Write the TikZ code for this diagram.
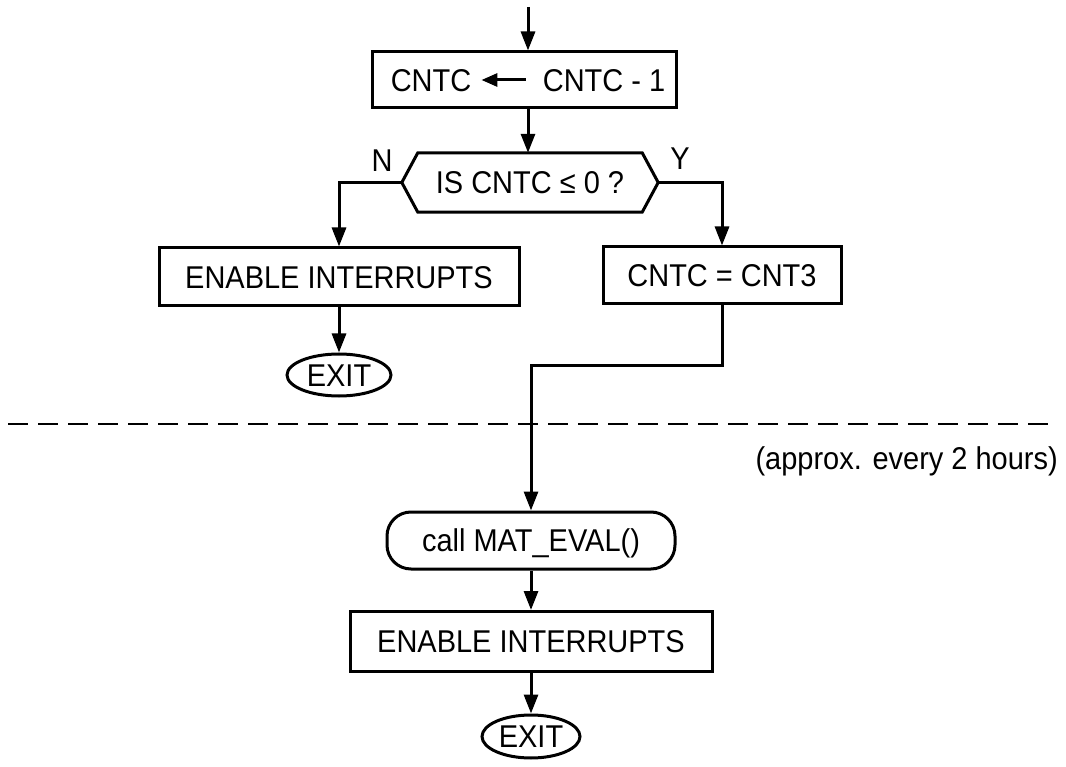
\documentclass[tikz,border=0pt]{standalone}
\usepackage{fontspec}
\setmainfont{Liberation Sans}[FakeStretch=0.92]
\usetikzlibrary{arrows.meta,shapes.geometric}

\tikzset{
  every node/.style={font=\fontsize{31.5}{36}\selectfont},
  line/.style={line width=3pt, line join=miter},
  flow/.style={line, -{Triangle[length=19pt,width=14pt]}},
  inarrow/.style={line, -{Triangle[length=16pt,width=13pt]}},
  procbox/.style={draw, line width=3pt, rectangle, inner sep=0pt,
                  text height=22.5pt, text depth=0pt},
  callbox/.style={procbox, rounded corners=24pt},
  exitnode/.style={draw, line width=3pt, ellipse, inner sep=0pt,
                   text height=22.5pt, text depth=0pt},
  plain/.style={inner sep=0pt, text height=22.5pt, text depth=0pt},
  sep/.style={line width=2.6pt, dash pattern=on 20pt off 10pt},
}

\begin{document}
\begin{tikzpicture}[x=1pt, y=1pt]
  \useasboundingbox (0,0) rectangle (1066,-767);

  % entry
  \coordinate (start) at (528,-7);

  % CNTC <- CNTC - 1
  \node[procbox, minimum width=304pt, minimum height=56pt] (b1) at (524,-80) {};
  \node[plain] (lhs) at (431,-80) {CNTC};
  \node[plain] (rhs) at (604,-80) {CNTC - 1};
  \draw[inarrow] ([xshift=-17pt]rhs.west) -- ([xshift=10pt]lhs.east);

  % decision
  \node[plain, minimum width=256pt, minimum height=59pt] (dec) at (530,-182.5) {IS CNTC ≤ 0 ?};
  \draw[line] (dec.west) -- ([xshift=16pt]dec.north west) -- ([xshift=-16pt]dec.north east)
              -- (dec.east) -- ([xshift=-16pt]dec.south east) -- ([xshift=16pt]dec.south west) -- cycle;
  \node[plain] (nlab) at (382,-160) {N};
  \node[plain] (ylab) at (680,-158) {Y};

  % branches
  \node[procbox, minimum width=360pt, minimum height=58pt] (en1) at (339,-277) {ENABLE INTERRUPTS};
  \node[procbox, minimum width=238pt, minimum height=57pt] (cnt) at (722,-275.5) {CNTC = CNT3};
  \node[exitnode, minimum width=104pt, minimum height=42pt] (ex1) at (339,-375) {EXIT};

  % separator
  \coordinate (dl) at (8,-424);
  \coordinate (dr) at (1054,-424);
  \draw[sep] (dl) -- (dr);
  \node[plain, anchor=east] (note) at (1058,-458) {(approx. every 2 hours)};

  % lower part
  \coordinate (bend) at (531,-366);
  \node[callbox, minimum width=288pt, minimum height=57pt] (mat) at (531,-540.5) {call MAT\_EVAL()};
  \node[procbox, minimum width=362pt, minimum height=60pt] (en2) at (531,-641.5) {ENABLE INTERRUPTS};
  \node[exitnode, minimum width=98pt, minimum height=43pt] (ex2) at (531,-736.5) {EXIT};

  % connectors
  \draw[flow] (start) -- (start |- b1.north);
  \draw[flow] (start |- b1.south) -- (start |- dec.north);
  \draw[flow] (dec.west) -| (en1.north);
  \draw[flow] (dec.east) -| (cnt.north);
  \draw[flow] (en1.south) -- (ex1.north);
  \draw[flow] (cnt.south) |- (bend) -- (mat.north);
  \draw[flow] (mat.south) -- (en2.north);
  \draw[flow] (en2.south) -- (ex2.north);
\end{tikzpicture}
\end{document}
